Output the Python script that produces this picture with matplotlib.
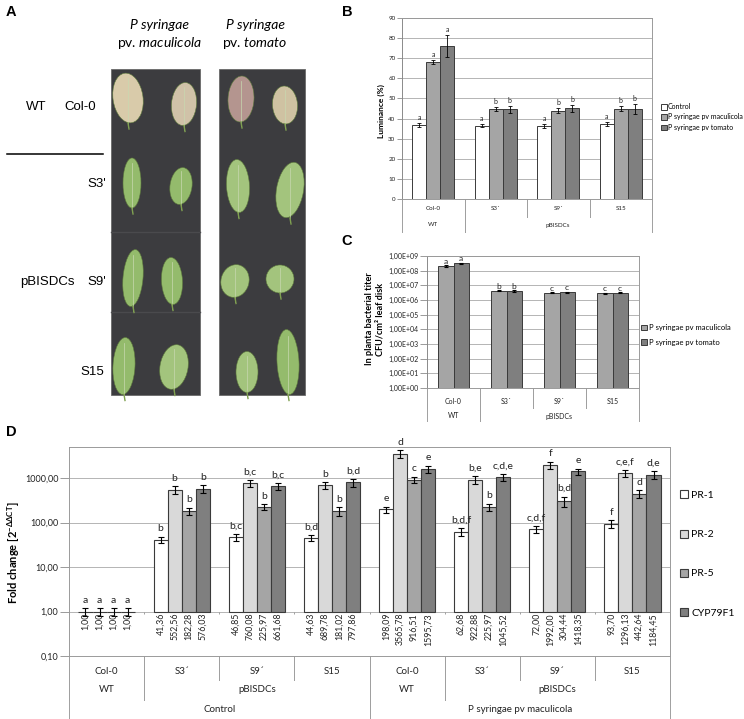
import numpy as np
import matplotlib
matplotlib.use('Agg')
import matplotlib.pyplot as plt
from matplotlib.patches import Rectangle, Ellipse

plt.rcParams['font.family'] = ['Lato', 'DejaVu Sans']
plt.rcParams['mathtext.fontset'] = 'custom'
plt.rcParams['mathtext.rm'] = 'Lato'
plt.rcParams['mathtext.it'] = 'Lato:italic'
plt.rcParams['mathtext.bf'] = 'Lato:bold'

# ---- data ----
strains = ['Col-0', 'S3´', 'S9´', 'S15']
genotypes = ['WT', 'pBISDCs']

# B: luminance (%)
b_labels = ['Control', 'P syringae pv maculicola', 'P syringae pv tomato']
b_ctrl = [36.8, 36.4, 36.3, 37.3]
b_mac = [68.3, 44.7, 44.0, 44.9]
b_tom = [76.0, 44.6, 45.1, 44.8]
b_ctrl_err = [0.9, 0.8, 0.9, 1.0]
b_mac_err = [1.0, 1.1, 1.1, 1.1]
b_tom_err = [5.3, 1.8, 1.8, 2.4]
b_ctrl_let = ['a', 'a', 'a', 'a']
b_mac_let = ['a', 'b', 'b', 'b']
b_tom_let = ['a', 'b', 'b', 'b']

# C: bacterial titer
c_labels = ['P syringae pv maculicola', 'P syringae pv tomato']
c_mac = [2.1e8, 4.2e6, 3.1e6, 2.8e6]
c_tom = [3.2e8, 4.1e6, 3.4e6, 3.1e6]
c_mac_err = [2.0e7, 4.0e5, 3.0e5, 2.5e5]
c_tom_err = [3.0e7, 4.0e5, 3.0e5, 3.0e5]
c_mac_let = ['a', 'b', 'c', 'c']
c_tom_let = ['a', 'b', 'c', 'c']

# D: fold change, 8 groups (4 control + 4 maculicola)
d_genes = ['PR-1', 'PR-2', 'PR-5', 'CYP79F1']
d_pr1 = [1.00, 41.36, 46.85, 44.63, 198.09, 62.68, 72.00, 93.70]
d_pr2 = [1.00, 552.56, 760.08, 689.78, 3565.78, 922.88, 1992.00, 1296.13]
d_pr5 = [1.00, 182.28, 225.97, 181.02, 916.51, 225.97, 304.44, 442.64]
d_cyp = [1.00, 576.03, 661.68, 797.86, 1595.73, 1045.52, 1418.35, 1184.45]
d_pr1_err = [0.2, 7, 9, 7, 30, 12, 13, 18]
d_pr2_err = [0.2, 110, 140, 120, 700, 170, 350, 230]
d_pr5_err = [0.2, 35, 35, 40, 150, 40, 80, 90]
d_cyp_err = [0.2, 110, 110, 170, 280, 200, 220, 230]
d_pr1_let = ['a', 'b', 'b,c', 'b,d', 'e', 'b,d,f', 'c,d,f', 'f']
d_pr2_let = ['a', 'b', 'b,c', 'b', 'd', 'b,e', 'f', 'c,e,f']
d_pr5_let = ['a', 'b', 'b', 'b', 'c', 'b', 'b,d', 'd']
d_cyp_let = ['a', 'b', 'b,c', 'b,d', 'e', 'c,d,e', 'e', 'd,e']
treatments = ['Control', 'P syringae pv maculicola']

# ---- layout ----
W, H = 744, 719
fig = plt.figure(figsize=(W / 100, H / 100), dpi=100)
EDGE = '#3a3a3a'
GRID = '#a8a8a8'
LINE = '#a0a0a0'


def px_axes(box):
    l, t, r, b = box
    return fig.add_axes([l / W, 1 - b / H, (r - l) / W, (b - t) / H])


def draw_categories(ax, box, levels, fs):
    t, b = box[1], box[3]
    trans = ax.get_xaxis_transform()
    for spans, y_txt, y_line in levels:
        for start, end, label in spans:
            ax.text((start + end - 1) / 2, (b - y_txt) / (b - t), label, transform=trans,
                    ha='center', va='center', fontsize=fs, color='#222222', clip_on=False)
            for xb in (start - 0.5, end - 0.5):
                ax.plot([xb, xb], [0, (b - y_line) / (b - t)], transform=trans,
                        color=LINE, lw=0.7, clip_on=False)


def style_axes(ax, fs, tlen):
    for s in ['top', 'right', 'bottom']:
        ax.spines[s].set_color('#9a9a9a')
        ax.spines[s].set_linewidth(0.7)
    ax.spines['left'].set_color('#8a8a8a')
    ax.spines['left'].set_linewidth(0.7)
    ax.grid(axis='y', color=GRID, lw=0.6)
    ax.set_axisbelow(True)
    ax.set_xticks([])
    ax.tick_params(axis='y', labelsize=fs, length=tlen, width=0.6, color='#8a8a8a',
                   labelcolor='#222222', pad=1.2)
    ax.minorticks_off()


def letters(ax, xs, tops, labs, fs, off):
    for x, y, s in zip(xs, tops, labs):
        ax.annotate(s, (x, y), xytext=(0, off), textcoords='offset points',
                    ha='center', va='bottom', fontsize=fs, color='#222222')


# overlay for panel A and panel letters
ov = fig.add_axes([0, 0, 1, 1])
ov.set_xlim(0, W)
ov.set_ylim(H, 0)
ov.axis('off')

for x0, x1 in [(111, 200), (219, 305)]:
    ov.add_patch(Rectangle((x0, 69), x1 - x0, 326, facecolor='#3c3c3f', edgecolor='#6a6a6a', lw=0.6))
ov.plot([111, 200], [232, 232], color='#4a4a4d', lw=1.0)
ov.plot([111, 200], [312, 312], color='#4a4a4d', lw=1.0)

beige, pink, green, green2 = '#d9cbaa', '#b4958f', '#94bb6c', '#a3c47d'
leaves = [
    (128, 98, 30, 50, beige, -8), (184, 104, 25, 43, '#d0c2a8', 5),
    (241, 99, 26, 46, pink, 3), (285, 105, 25, 38, '#cfc2a2', -4),
    (132, 183, 18, 50, green, 0), (181, 186, 22, 37, green, 8),
    (238, 186, 23, 53, green2, -3), (290, 190, 27, 56, green2, 10),
    (133, 278, 20, 57, green, 5), (172, 281, 21, 47, green, -3),
    (235, 281, 28, 33, green2, 15), (280, 279, 28, 28, green2, 0),
    (124, 366, 22, 57, green, 3), (174, 367, 28, 45, green2, 10),
    (247, 372, 22, 41, green2, 0), (288, 362, 22, 65, green, -3),
]
for cx, cy, w, h, col, ang in leaves:
    ov.add_patch(Ellipse((cx, cy), w, h, angle=ang, facecolor=col, edgecolor='#5d7a3c', lw=0.4))
    ov.plot([cx, cx], [cy - h * 0.4, cy + h * 0.5 + 4], color='#c8d8b0', lw=0.5)
    ov.plot([cx, cx + 1], [cy + h * 0.5, cy + h * 0.5 + 6], color='#7fa050', lw=1.0)

fa = ['Lato', 'DejaVu Sans']
ov.text(159, 25, 'P syringae', fontsize=10, style='italic', ha='center', va='center', family=fa)
ov.text(159, 43, r'pv. $\mathit{maculicola}$', fontsize=10, ha='center', va='center', family=fa)
ov.text(255, 25, 'P syringae', fontsize=10, style='italic', ha='center', va='center', family=fa)
ov.text(255, 43, r'pv. $\mathit{tomato}$', fontsize=10, ha='center', va='center', family=fa)

fl = ['Liberation Sans', 'DejaVu Sans']
ov.text(36, 107, 'WT', fontsize=9.5, ha='center', va='center', family=fl)
ov.text(80, 107, 'Col-0', fontsize=9.5, ha='center', va='center', family=fl)
ov.plot([7, 103], [154, 154], color='black', lw=1.1)
ov.text(106, 184, "S3'", fontsize=9.5, ha='right', va='center', family=fl)
ov.text(47, 282, 'pBISDCs', fontsize=9.5, ha='center', va='center', family=fl)
ov.text(106, 282, "S9'", fontsize=9.5, ha='right', va='center', family=fl)
ov.text(104, 372, 'S15', fontsize=9.5, ha='right', va='center', family=fl)

for s, x, y in [('A', 11, 12), ('B', 347, 12), ('C', 347, 241), ('D', 11, 432)]:
    ov.text(x, y, s, fontsize=10.5, fontweight='bold', ha='center', va='center', family=fl)

# ---- panel B ----
box_b = (402, 18, 652, 199)
ax_b = px_axes(box_b)
xg = np.arange(4)
wb = 0.224
series_b = [(b_ctrl, b_ctrl_err, b_ctrl_let, 'white'),
            (b_mac, b_mac_err, b_mac_let, '#a5a5a5'),
            (b_tom, b_tom_err, b_tom_let, '#7f7f7f')]
handles_b = []
for i, (v, e, lt, col) in enumerate(series_b):
    xs = xg + (i - 1) * wb
    h = ax_b.bar(xs, v, wb, color=col, edgecolor=EDGE, lw=0.7, label=b_labels[i])
    ax_b.errorbar(xs, v, yerr=e, fmt='none', ecolor='black', elinewidth=0.6, capsize=1.4, capthick=0.6)
    letters(ax_b, xs, np.array(v) + np.array(e), lt, 5, 1.5)
    handles_b.append(h)
ax_b.set_xlim(-0.5, 3.5)
ax_b.set_ylim(0, 90)
ax_b.set_yticks(range(0, 91, 10))
style_axes(ax_b, 4.5, 3.5)
draw_categories(ax_b, box_b, [
    ([(i, i + 1, s) for i, s in enumerate(strains)], 209, 217),
    ([(0, 1, genotypes[0]), (1, 4, genotypes[1])], 225, 232)], 4.5)
ov.text(381, 111, 'Luminance (%)', rotation=90, fontsize=6, fontweight='bold', ha='center', va='center')
ax_b.legend(handles=handles_b, loc='center left', bbox_to_anchor=(661 / W, 1 - 117 / H),
            bbox_transform=fig.transFigure, frameon=False, fontsize=5, handlelength=0.8,
            handleheight=0.8, handletextpad=0.2, labelspacing=0.45, borderpad=0, borderaxespad=0)

# ---- panel C ----
box_c = (427, 256, 639, 388)
ax_c = px_axes(box_c)
wc = 0.284
series_c = [(c_mac, c_mac_err, c_mac_let, '#a5a5a5'), (c_tom, c_tom_err, c_tom_let, '#7f7f7f')]
handles_c = []
for i, (v, e, lt, col) in enumerate(series_c):
    xs = xg + (i - 0.5) * wc
    v = np.array(v)
    h = ax_c.bar(xs, v - 1, wc, bottom=1, color=col, edgecolor=EDGE, lw=0.7, label=c_labels[i])
    ax_c.errorbar(xs, v, yerr=e, fmt='none', ecolor='black', elinewidth=0.8, capsize=1.6, capthick=0.8)
    letters(ax_c, xs, v + np.array(e), lt, 6, 0.5)
    handles_c.append(h)
ax_c.set_yscale('log')
ax_c.set_xlim(-0.5, 3.5)
ax_c.set_ylim(1, 1e9)
ax_c.set_yticks([10.0 ** k for k in range(10)])
ax_c.set_yticklabels(['1,00E+%02d' % k for k in range(10)])
style_axes(ax_c, 5, 5)
draw_categories(ax_c, box_c, [
    ([(i, i + 1, s) for i, s in enumerate(strains)], 401, 408),
    ([(0, 1, genotypes[0]), (1, 4, genotypes[1])], 416, 421)], 5)
ov.text(375, 319, 'In planta bacterial titer\nCFU/cm² leaf disk', rotation=90, fontsize=6.6,
        fontweight='bold', ha='center', va='center', linespacing=1.2)
ax_c.legend(handles=handles_c, loc='center left', bbox_to_anchor=(641 / W, 1 - 335 / H),
            bbox_transform=fig.transFigure, frameon=False, fontsize=5.5, handlelength=0.8,
            handleheight=0.8, handletextpad=0.2, labelspacing=1.0, borderpad=0, borderaxespad=0)

# ---- panel D ----
box_d = (69, 447, 670, 656)
ax_d = px_axes(box_d)
xd = np.arange(8)
wd = 0.187
series_d = [(d_pr1, d_pr1_err, d_pr1_let, 'white'),
            (d_pr2, d_pr2_err, d_pr2_let, '#d9d9d9'),
            (d_pr5, d_pr5_err, d_pr5_let, '#a5a5a5'),
            (d_cyp, d_cyp_err, d_cyp_let, '#7f7f7f')]
handles_d = []
for i, (v, e, lt, col) in enumerate(series_d):
    xs = xd + (i - 1.5) * wd
    v = np.array(v)
    h = ax_d.bar(xs, v - 1, wd, bottom=1, color=col, edgecolor=EDGE, lw=0.8, label=d_genes[i])
    ax_d.errorbar(xs, v, yerr=e, fmt='none', ecolor='black', elinewidth=0.8, capsize=2.2, capthick=0.8)
    letters(ax_d, xs, v + np.array(e), lt, 7.5, 2.5)
    for x, val in zip(xs, v):
        ax_d.text(x, 0.93, ('%.2f' % val).replace('.', ','), rotation=90, ha='center', va='top',
                  fontsize=6.3, color='#222222')
    handles_d.append(h)
ax_d.set_yscale('log')
ax_d.set_xlim(-0.5, 7.5)
ax_d.set_ylim(0.1, 5000)
ax_d.set_yticks([0.1, 1, 10, 100, 1000])
ax_d.set_yticklabels(['0,10', '1,00', '10,00', '100,00', '1000,00'])
style_axes(ax_d, 6.5, 6.5)
ax_d.spines['left'].set_color('#9a9a9a')
ax_d.vlines(np.arange(8) + 0.5, 0.87, 1.0, color='#909090', lw=0.6)
ax_d.vlines([-0.5], 0.87, 1.0, color='#909090', lw=0.6)
draw_categories(ax_d, box_d, [
    ([(i, i + 1, strains[i % 4]) for i in range(8)], 671, 680),
    ([(0, 1, 'WT'), (1, 4, 'pBISDCs'), (4, 5, 'WT'), (5, 8, 'pBISDCs')], 690, 700),
    ([(0, 4, treatments[0]), (4, 8, treatments[1])], 710, 719)], 7)
ov.text(14, 553, r'Fold change [2$^{\mathbf{-\Delta\Delta CT}}$]', rotation=90, fontsize=8,
        fontweight='bold', ha='center', va='center')
ax_d.legend(handles=handles_d, loc='center left', bbox_to_anchor=(680 / W, 1 - 554 / H),
            bbox_transform=fig.transFigure, frameon=False, fontsize=7.5, handlelength=0.8,
            handleheight=0.8, handletextpad=0.3, labelspacing=2.85, borderpad=0, borderaxespad=0)

fig.savefig('out.png', dpi=100)
